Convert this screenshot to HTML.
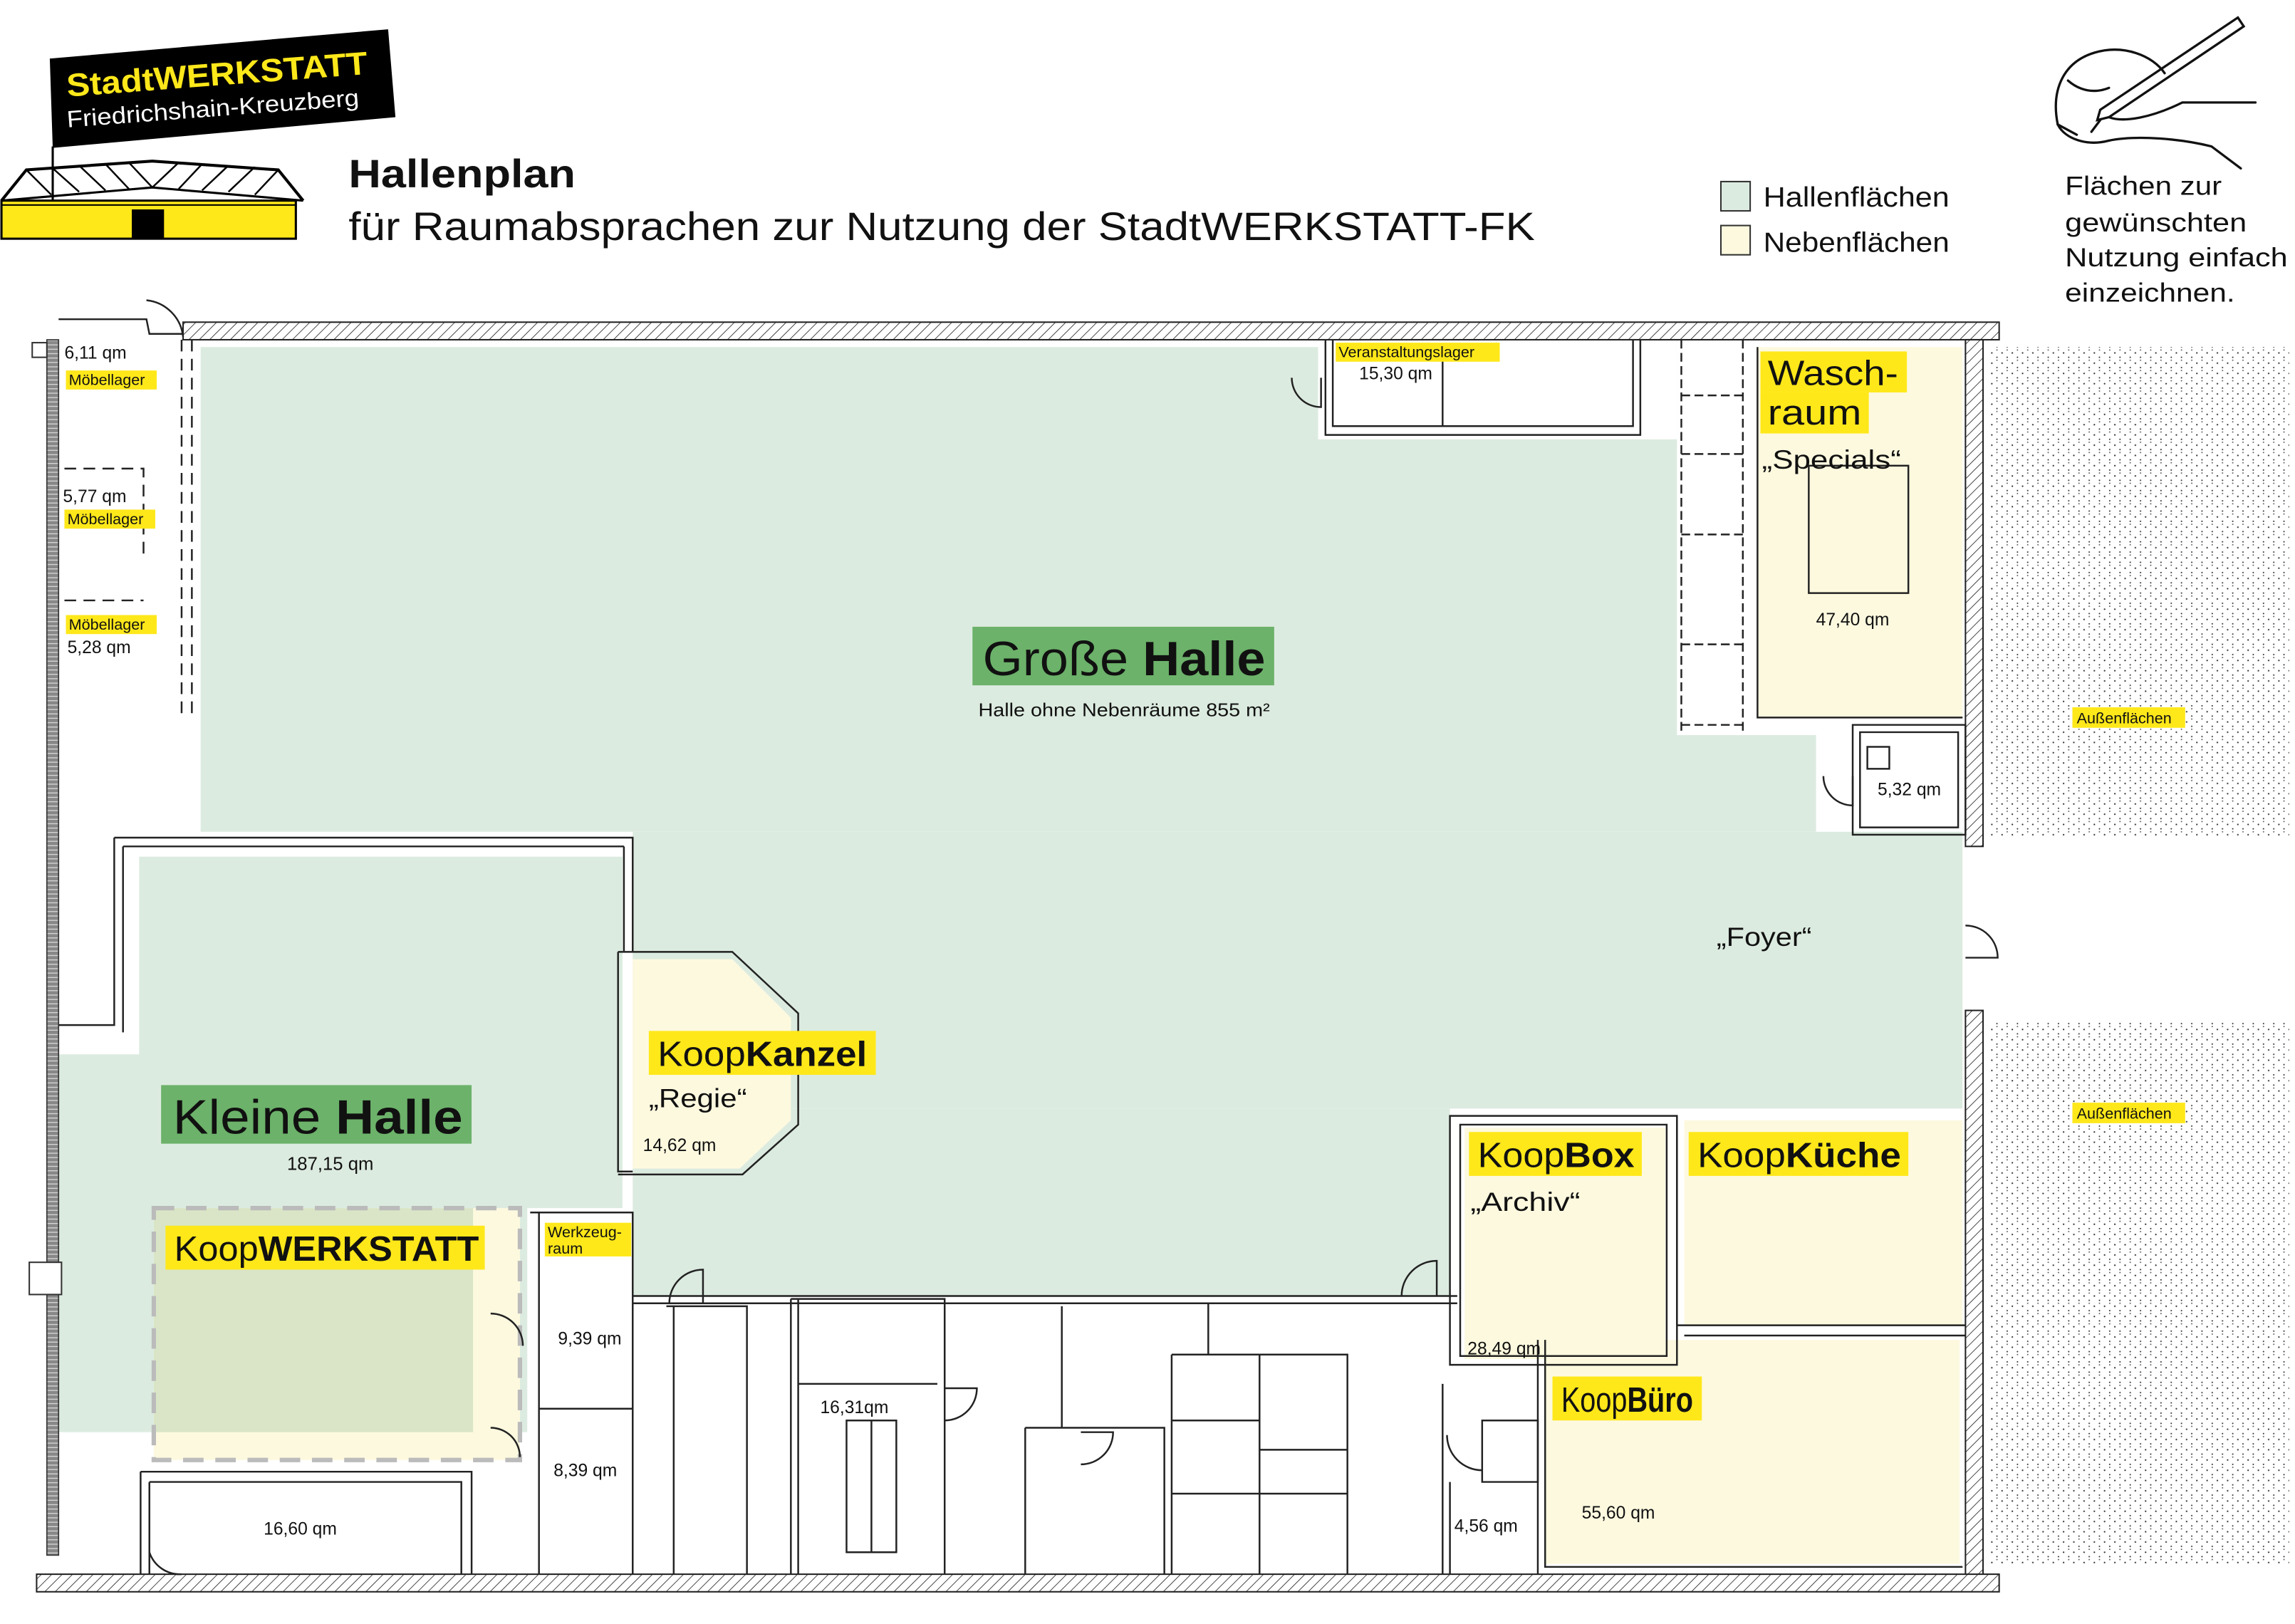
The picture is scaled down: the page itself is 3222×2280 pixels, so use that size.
<!DOCTYPE html>
<html><head><meta charset="utf-8"><style>
html,body{margin:0;padding:0;background:#fff;}
svg{display:block}
text{font-family:"Liberation Sans","DejaVu Sans",sans-serif;fill:#111}
</style></head><body>
<svg width="3222" height="2280" viewBox="0 0 1567 1109" preserveAspectRatio="none" xmlns="http://www.w3.org/2000/svg">
<defs>
<pattern id="hatch" width="5" height="5" patternUnits="userSpaceOnUse" patternTransform="rotate(45)">
<rect width="5" height="5" fill="#fff"/><line x1="0" y1="0" x2="0" y2="5" stroke="#222" stroke-width="0.8"/></pattern>
<pattern id="dots" width="7" height="7" patternUnits="userSpaceOnUse">
<circle cx="2" cy="3" r="0.55" fill="#333"/><circle cx="5.5" cy="6" r="0.5" fill="#333"/><circle cx="5.5" cy="1" r="0.45" fill="#555"/></pattern>
<pattern id="grey" width="3" height="3" patternUnits="userSpaceOnUse"><rect width="3" height="3" fill="#888"/><line x1="0" y1="1.5" x2="3" y2="1.5" stroke="#ddd" stroke-width="0.6"/></pattern>
</defs>

<!-- Logo -->
<polygon points="34,40 265,20 270,80 36,101" fill="#000"/>
<text x="46" y="66" font-size="22" font-weight="bold" textLength="206" lengthAdjust="spacingAndGlyphs" transform="rotate(-4.3 46 66)" style="fill:#ffe81a">StadtWERKSTATT</text>
<text x="46" y="87" font-size="16" textLength="200" lengthAdjust="spacingAndGlyphs" transform="rotate(-4.3 46 87)" style="fill:#fff">Friedrichshain-Kreuzberg</text>
<line x1="36" y1="100" x2="36" y2="137" stroke="#000" stroke-width="1.5"/>
<rect x="1" y="137" width="201" height="26" fill="#ffe81a" stroke="#000" stroke-width="1.5"/>
<rect x="90" y="143" width="22" height="20" fill="#000"/>
<line x1="1" y1="140" x2="202" y2="140" stroke="#000" stroke-width="1"/>
<polyline points="1,137 18,116 104,110 190,116 207,137" fill="none" stroke="#000" stroke-width="2"/>
<polyline points="1,137 104,128 207,137" fill="none" stroke="#000" stroke-width="1.5"/>
<path d="M18,116 L35,133 M35,114 L54,131 M54,113 L72,130 M72,112 L88,129 M88,111 L104,128 L122,111 M122,129 L138,112 M138,130 L156,113 M156,131 L174,114 M174,133 L190,116" stroke="#000" stroke-width="1.2" fill="none"/>

<!-- titles -->
<text x="238" y="128" font-size="27" font-weight="bold" textLength="155" lengthAdjust="spacingAndGlyphs">Hallenplan</text>
<text x="238" y="164" font-size="27" textLength="810" lengthAdjust="spacingAndGlyphs">für Raumabsprachen zur Nutzung der StadtWERKSTATT-FK</text>

<!-- legend -->
<rect x="1175" y="124" width="20" height="20" fill="#dcebe0" stroke="#333"/>
<rect x="1175" y="154" width="20" height="20" fill="#fdf9df" stroke="#333"/>
<text x="1204" y="141" font-size="19" textLength="127" lengthAdjust="spacingAndGlyphs">Hallenflächen</text>
<text x="1204" y="172" font-size="19" textLength="127" lengthAdjust="spacingAndGlyphs">Nebenflächen</text>

<!-- hand -->
<g fill="none" stroke="#111" stroke-width="1.6" stroke-linecap="round">
<path d="M1528,12 L1532,18 L1440,80 L1432,82 L1434,75 Z"/>
<path d="M1434,82 L1428,90"/>
<path d="M1405,85 C1400,60 1410,42 1430,36 C1450,30 1470,38 1478,50"/>
<path d="M1405,85 C1410,95 1425,100 1440,96 C1460,92 1490,95 1510,100 L1530,115"/>
<path d="M1412,55 C1420,62 1430,64 1440,60"/>
<path d="M1440,80 C1450,84 1470,80 1490,70 L1540,70"/>
<path d="M1405,85 L1418,92"/>
</g>
<text x="1410" y="133" font-size="18" textLength="107" lengthAdjust="spacingAndGlyphs">Flächen zur</text>
<text x="1410" y="158" font-size="18" textLength="124" lengthAdjust="spacingAndGlyphs">gewünschten</text>
<text x="1410" y="182" font-size="18" textLength="152" lengthAdjust="spacingAndGlyphs">Nutzung einfach</text>
<text x="1410" y="206" font-size="18" textLength="116" lengthAdjust="spacingAndGlyphs">einzeichnen.</text>

<!-- outdoor dots -->
<rect x="1358" y="237" width="205" height="335" fill="url(#dots)"/>
<rect x="1358" y="697" width="205" height="372" fill="url(#dots)"/>
<rect x="1415" y="483" width="77" height="14" fill="#ffe81a"/>
<text x="1418" y="494" font-size="10.5">Außenflächen</text>
<rect x="1415" y="753" width="77" height="14" fill="#ffe81a"/>
<text x="1418" y="764" font-size="10.5">Außenflächen</text>

<!-- fills -->
<g fill="#dcebe0">
<rect x="137" y="237" width="1203" height="331"/>
<rect x="432" y="568" width="908" height="189"/>
<rect x="432" y="757" width="558" height="128"/>
<rect x="95" y="585" width="330" height="240"/>
<rect x="35" y="720" width="325" height="258"/>
</g>
<rect x="900" y="232" width="245" height="68" fill="#fff"/>
<rect x="1145" y="232" width="200" height="270" fill="#fff"/>
<rect x="1240" y="490" width="105" height="78" fill="#fff"/>
<g fill="#fdf9df">
<rect x="1200" y="237" width="140" height="253"/>
<rect x="105" y="825" width="250" height="172"/>
<polygon points="432,655 500,655 540,695 540,765 505,798 432,798"/>
<rect x="1000" y="770" width="137" height="158"/>
<rect x="1150" y="765" width="190" height="140"/>
<rect x="1055" y="915" width="283" height="153"/>
</g>
<rect x="105" y="825" width="218" height="153" fill="#d9e5c6"/>
<rect x="105" y="825" width="250" height="172" fill="none" stroke="#bbb" stroke-width="3" stroke-dasharray="14,8"/>

<!-- walls -->
<rect x="125" y="220" width="1240" height="12" fill="url(#hatch)" stroke="#222" stroke-width="1"/>
<rect x="1342" y="232" width="12" height="346" fill="url(#hatch)" stroke="#222" stroke-width="1"/>
<rect x="1342" y="690" width="12" height="390" fill="url(#hatch)" stroke="#222" stroke-width="1"/>
<rect x="25" y="1075" width="1340" height="12" fill="url(#hatch)" stroke="#222" stroke-width="1"/>
<rect x="32" y="232" width="8" height="830" fill="url(#grey)" stroke="#333" stroke-width="0.8"/>
<rect x="22" y="234" width="10" height="10" fill="#fff" stroke="#333"/>
<rect x="20" y="862" width="22" height="22" fill="#fff" stroke="#333"/>

<g fill="none" stroke="#222" stroke-width="1.2">
<path d="M40,218 L100,218 L102,228 L125,228"/>
<path d="M124,232 L124,490 M131,232 L131,490" stroke-dasharray="8,5"/>
<path d="M44,320 L98,320 L98,380 M44,410 L98,410" stroke-dasharray="8,5"/>
<path d="M78,572 L432,572 L432,650 M78,572 L78,700 L40,700 M84,578 L426,578 M84,578 L84,705"/>
<path d="M426,578 L426,650 M422,650 L422,800 L432,800"/>
<path d="M422,650 L500,650 L545,692 L545,768 L507,802 L422,802"/>
<path d="M362,828 L432,828 L432,1075 M368,828 L368,1075 M368,962 L432,962"/>
<path d="M96,1005 L322,1005 L322,1075 M102,1012 L315,1012 L315,1075 M96,1005 L96,1075 M102,1012 L102,1075"/>
<path d="M432,885 L995,885 M432,890 L995,890"/>
<path d="M455,892 L510,892 L510,1075 M460,892 L460,1075"/>
<path d="M540,887 L540,1075 M545,887 L545,1075 M540,887 L645,887 L645,945 M545,945 L640,945"/>
<path d="M645,892 L645,1075 M700,975 L700,1075 M700,975 L795,975 L795,1075"/>
<path d="M725,892 L725,975 M800,925 L920,925 L920,1075 M800,925 L800,1075 M860,925 L860,1075 M800,970 L860,970 M800,1020 L920,1020 M860,990 L920,990"/>
<path d="M825,890 L825,925 M940,890 L990,890"/>
<path d="M578,970 L612,970 L612,1060 L578,1060 Z M595,970 L595,1060" />
<path d="M905,232 L905,297 L1120,297 L1120,232 M910,232 L910,291 L1115,291 L1115,232 M985,245 L985,291"/>
<path d="M1148,232 L1148,500 M1190,232 L1190,500 M1148,270 L1190,270 M1148,310 L1190,310 M1148,365 L1190,365 M1148,440 L1190,440 M1148,495 L1190,495" stroke-dasharray="6,3"/>
<path d="M1200,237 L1200,490 L1340,490"/>
<rect x="1235" y="318" width="68" height="87"/>
<path d="M1265,495 L1342,495 L1342,570 L1265,570 Z M1270,500 L1337,500 L1337,565 L1270,565 Z"/>
<rect x="1275" y="510" width="15" height="15"/>
<path d="M990,762 L1145,762 L1145,932 L990,932 Z M997,768 L1138,768 L1138,926 L997,926 Z"/>
<path d="M1145,905 L1342,905 M1150,912 L1342,912 M1145,765 L1145,905"/>
<path d="M1050,915 L1050,1075 M1055,915 L1055,1070 L1340,1070"/>
<path d="M1012,970 L1050,970 L1050,1012 L1012,1012 Z M985,945 L985,1075 M990,1012 L990,1075"/>
<path d="M882,258 A20,20 0 0 0 902,278 L902,258"/>
<path d="M1245,530 A20,20 0 0 0 1265,550 L1265,530"/>
<path d="M1342,632 A22,22 0 0 1 1364,654 L1342,654"/>
<path d="M457,890 A23,23 0 0 1 480,867 L480,890"/>
<path d="M957,885 A24,24 0 0 1 981,861 L981,885"/>
<path d="M645,970 A22,22 0 0 0 667,948 L645,948"/>
<path d="M738,1000 A22,22 0 0 0 760,978 L738,978"/>
<path d="M335,897 A22,22 0 0 1 357,919"/>
<path d="M335,975 A20,20 0 0 1 355,995"/>
<path d="M988,980 A24,24 0 0 0 1012,1004"/>
<path d="M102,1060 A22,22 0 0 0 124,1075"/>
<path d="M100,205 A28,28 0 0 1 125,230"/>
</g>

<!-- labels -->
<rect x="664" y="428" width="206" height="40" fill="#6cb26a"/>
<text x="671" y="461" font-size="33" textLength="193" lengthAdjust="spacingAndGlyphs">Große <tspan font-weight="bold">Halle</tspan></text>
<text x="668" y="489" font-size="12.5" textLength="199" lengthAdjust="spacingAndGlyphs">Halle ohne Nebenräume 855 m²</text>
<rect x="110" y="741" width="212" height="40" fill="#6cb26a"/>
<text x="118" y="774" font-size="33" textLength="198" lengthAdjust="spacingAndGlyphs">Kleine <tspan font-weight="bold">Halle</tspan></text>
<text x="196" y="799" font-size="12.5">187,15 qm</text>

<g font-size="24">
<rect x="443" y="704" width="155" height="30" fill="#ffe81a"/>
<text x="449" y="728" textLength="143" lengthAdjust="spacingAndGlyphs">Koop<tspan font-weight="bold">Kanzel</tspan></text>
<rect x="113" y="837" width="218" height="30" fill="#ffe81a"/>
<text x="119" y="861" textLength="208" lengthAdjust="spacingAndGlyphs">Koop<tspan font-weight="bold">WERKSTATT</tspan></text>
<rect x="1003" y="773" width="118" height="30" fill="#ffe81a"/>
<text x="1009" y="797" textLength="107" lengthAdjust="spacingAndGlyphs">Koop<tspan font-weight="bold">Box</tspan></text>
<rect x="1153" y="773" width="150" height="30" fill="#ffe81a"/>
<text x="1159" y="797" textLength="139" lengthAdjust="spacingAndGlyphs">Koop<tspan font-weight="bold">Küche</tspan></text>
<rect x="1060" y="940" width="102" height="30" fill="#ffe81a"/>
<text x="1066" y="964" textLength="90" lengthAdjust="spacingAndGlyphs">Koop<tspan font-weight="bold">Büro</tspan></text>
<rect x="1202" y="240" width="100" height="28" fill="#ffe81a"/>
<rect x="1202" y="268" width="74" height="28" fill="#ffe81a"/>
<text x="1207" y="263" textLength="89" lengthAdjust="spacingAndGlyphs">Wasch-</text>
<text x="1207" y="290" textLength="64" lengthAdjust="spacingAndGlyphs">raum</text>
</g>
<g font-size="18">
<text x="1203" y="320" textLength="95" lengthAdjust="spacingAndGlyphs">„Specials“</text>
<text x="443" y="756" textLength="67" lengthAdjust="spacingAndGlyphs">„Regie“</text>
<text x="1004" y="827" textLength="75" lengthAdjust="spacingAndGlyphs">„Archiv“</text>
<text x="1172" y="646" textLength="65" lengthAdjust="spacingAndGlyphs">„Foyer“</text>
</g>
<g font-size="12">
<text x="1240" y="427">47,40 qm</text>
<text x="1282" y="543">5,32 qm</text>
<text x="439" y="786">14,62 qm</text>
<text x="1002" y="925">28,49 qm</text>
<text x="1080" y="1037">55,60 qm</text>
<text x="993" y="1046">4,56 qm</text>
<text x="560" y="965">16,31qm</text>
<text x="381" y="918">9,39 qm</text>
<text x="378" y="1008">8,39 qm</text>
<text x="180" y="1048">16,60 qm</text>
<text x="928" y="259">15,30 qm</text>
<text x="44" y="245">6,11 qm</text>
<text x="43" y="343">5,77 qm</text>
<text x="46" y="446">5,28 qm</text>
</g>
<g font-size="10.5">
<rect x="912" y="234" width="112" height="13" fill="#ffe81a"/><text x="914" y="244">Veranstaltungslager</text>
<rect x="45" y="253" width="62" height="13" fill="#ffe81a"/><text x="47" y="263">Möbellager</text>
<rect x="44" y="348" width="62" height="13" fill="#ffe81a"/><text x="46" y="358">Möbellager</text>
<rect x="45" y="420" width="62" height="13" fill="#ffe81a"/><text x="47" y="430">Möbellager</text>
<rect x="372" y="835" width="59" height="23" fill="#ffe81a"/><text x="374" y="845">Werkzeug-</text><text x="374" y="856">raum</text>
</g>
</svg>
</body></html>
